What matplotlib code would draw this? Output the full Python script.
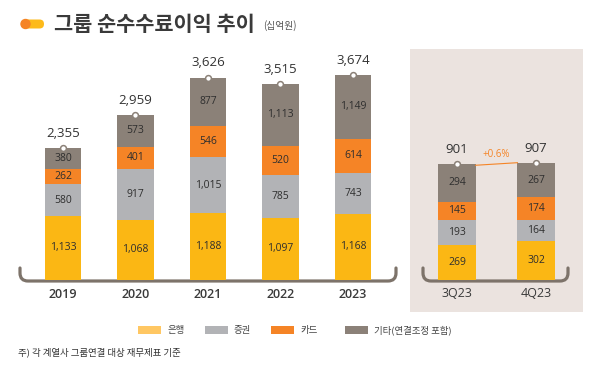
import matplotlib
matplotlib.use("Agg")
import matplotlib.pyplot as plt
from matplotlib.patches import Rectangle, FancyBboxPatch, Circle, PathPatch
from matplotlib.path import Path

plt.rcParams['font.family'] = ['Noto Sans CJK KR', 'DejaVu Sans']

# ---------------- data ----------------
years = ["2019", "2020", "2021", "2022", "2023"]
bank_y = [1133, 1068, 1188, 1097, 1168]
sec_y = [580, 917, 1015, 785, 743]
card_y = [262, 401, 546, 520, 614]
other_y = [380, 573, 877, 1113, 1149]
total_y = [2355, 2959, 3626, 3515, 3674]

quarters = ["3Q23", "4Q23"]
bank_q = [269, 302]
sec_q = [193, 164]
card_q = [145, 174]
other_q = [294, 267]
total_q = [901, 907]
growth_label = "+0.6%"

series_names = ["은행", "증권", "카드", "기타(연결조정 포함)"]

# ---------------- style ----------------
C_BANK = "#FBB714"
C_SEC = "#B2B3B6"
C_CARD = "#F58426"
C_OTHER = "#8B8178"
C_LEG_BANK = "#FFC763"
C_BRACKET = "#7D736A"
C_BOX = "#EBE3DF"
C_TXT = "#333333"
NUMFONT = ["Open Sans", "DejaVu Sans"]

W, H = 600, 373
fig = plt.figure(figsize=(6.0, 3.73), dpi=100)

def fx(px):
    return px / W

def fy(py):
    return 1 - py / H

# overlay axes in pixel coords (decorations)
ov = fig.add_axes([0, 0, 1, 1], zorder=0)
ov.set_xlim(0, W)
ov.set_ylim(H, 0)
ov.axis("off")

# quarter background box
ov.add_patch(Rectangle((410, 49), 173, 263, facecolor=C_BOX, edgecolor="none"))

# title icon
ov.add_patch(FancyBboxPatch((21, 19.5), 23, 9, boxstyle="round,pad=0,rounding_size=4.5",
                            facecolor="#FDBA1A", edgecolor="none"))
ov.add_patch(Circle((25.5, 24), 5.2, facecolor="#F58426", edgecolor="none"))
ov.text(54, 24.5, "그룹 순수수료이익 추이", fontsize=15, fontweight="bold",
        color="#3a3a3a", va="center", ha="left")
ov.text(263, 26, "(십억원)", fontsize=7, color="#555555", va="center", ha="left")

def bracket(x0, x1, ytop, ybot, r=8):
    verts = [(x0, ytop), (x0, ybot - r), (x0, ybot), (x0 + r, ybot),
             (x1 - r, ybot), (x1, ybot), (x1, ybot - r), (x1, ytop)]
    codes = [Path.MOVETO, Path.LINETO, Path.CURVE3, Path.CURVE3,
             Path.LINETO, Path.CURVE3, Path.CURVE3, Path.LINETO]
    ov.add_patch(PathPatch(Path(verts, codes), facecolor="none", edgecolor=C_BRACKET,
                           lw=2.3, capstyle="round", joinstyle="round", zorder=5))

bracket(20, 396, 268, 281)
bracket(423, 568, 268, 281)

# legend
leg_items = [(138, C_LEG_BANK), (205, C_SEC), (271, C_CARD), (345, C_OTHER)]
for (x, c), name in zip(leg_items, series_names):
    ov.add_patch(Rectangle((x, 326), 23, 8, facecolor=c, edgecolor="none"))
    ov.text(x + 29, 330, name, fontsize=6.8, color="#444444", va="center", ha="left")

ov.text(18, 352, "주) 각 계열사 그룹연결 대상 재무제표 기준", fontsize=6.8,
        color="#333333", va="center", ha="left")

# ---------------- annual axes ----------------
base_py = 279.5
scale_y = 0.0557  # px per unit
ylim_y = 4000
h_px = ylim_y * scale_y
axL = fig.add_axes([fx(26.75), fy(base_py), fx(362.5), h_px / H], zorder=2)
axL.patch.set_alpha(0)
axL.set_xlim(-0.5, 4.5)
axL.set_ylim(0, ylim_y)
axL.axis("off")

def draw_stack(ax, n, bank, sec, card, other, width, lab_size):
    xs = list(range(n))
    bottoms = [0] * n
    for vals, col in [(bank, C_BANK), (sec, C_SEC), (card, C_CARD), (other, C_OTHER)]:
        ax.bar(xs, vals, bottom=bottoms, width=width, color=col, edgecolor="none", zorder=2)
        for i in xs:
            ax.text(i, bottoms[i] + vals[i] / 2, f"{vals[i]:,}", ha="center", va="center",
                    fontsize=lab_size, color="#2e2e2e", family=NUMFONT, zorder=4)
        bottoms = [b + v for b, v in zip(bottoms, vals)]
    for i in xs:
        ax.plot(i, bottoms[i], marker="o", markersize=4.2, markerfacecolor="white",
                markeredgecolor="#8B8178", markeredgewidth=1.1, zorder=5, clip_on=False)
    return xs, bottoms

xs, tops = draw_stack(axL, 5, bank_y, sec_y, card_y, other_y, 0.5, 7.5)
for i in xs:
    axL.annotate(f"{total_y[i]:,}", (i, tops[i]), xytext=(0, 10.5), textcoords="offset points",
                 ha="center", va="center", fontsize=9.5, color=C_TXT,
                 family=NUMFONT, annotation_clip=False)
    axL.annotate(years[i], (i, 0), xytext=(0, -10.5), textcoords="offset points",
                 ha="center", va="center", fontsize=9, fontweight=600, color="#3a3a3a",
                 family=NUMFONT, annotation_clip=False)

# ---------------- quarterly axes ----------------
scale_q = 0.1285
ylim_q = 1000
hq_px = ylim_q * scale_q
axR = fig.add_axes([fx(417.5), fy(base_py), fx(158), hq_px / H], zorder=2)
axR.patch.set_alpha(0)
axR.set_xlim(-0.5, 1.5)
axR.set_ylim(0, ylim_q)
axR.axis("off")

xq, topq = draw_stack(axR, 2, bank_q, sec_q, card_q, other_q, 0.47, 7.5)
for i in xq:
    axR.annotate(f"{total_q[i]:,}", (i, topq[i]), xytext=(0, 10.5), textcoords="offset points",
                 ha="center", va="center", fontsize=9.5, color=C_TXT,
                 family=NUMFONT, annotation_clip=False)
    axR.annotate(quarters[i], (i, 0), xytext=(0, -10), textcoords="offset points",
                 ha="center", va="center", fontsize=9, color="#3a3a3a",
                 family=NUMFONT, annotation_clip=False)

# growth line
axR.plot([0.235, 0.765], [topq[0] - 12, topq[1] + 2], color=C_CARD, lw=0.8, zorder=3)
axR.annotate(growth_label, (0.5, (topq[0] + topq[1]) / 2), xytext=(0, 6.5),
             textcoords="offset points", ha="center", va="center", fontsize=7,
             color=C_CARD, family=NUMFONT, annotation_clip=False)

fig.savefig("out.png", dpi=100)
